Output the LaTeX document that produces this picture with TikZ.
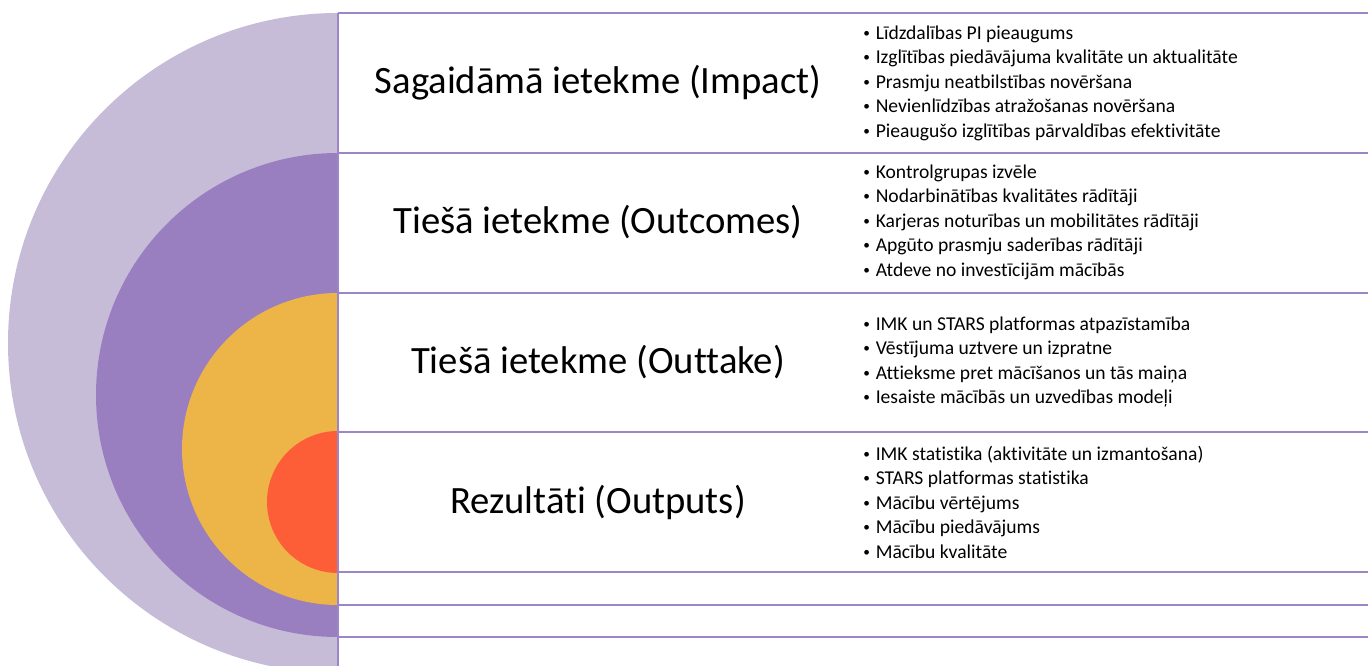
\documentclass[tikz,border=0pt]{standalone}
\usepackage{fontspec}
\setmainfont{Carlito}[Ligatures=NoCommon]

\definecolor{ringpale}{HTML}{C6BCD8}
\definecolor{ringviolet}{HTML}{9A7FC0}
\definecolor{ringgold}{HTML}{EDB548}
\definecolor{ringred}{HTML}{FD5E38}
\definecolor{rulecol}{HTML}{9C86C8}

\tikzset{
  rule/.style={draw=rulecol, line width=1.6pt},
  heading/.style={inner sep=0pt, font=\fontsize{29}{34}\selectfont},
  items/.style={anchor=west, inner sep=0pt, align=left, font=\fontsize{14.7}{18.4}\selectfont}
}
\newcommand{\itm}{\raisebox{0.2ex}{\fontsize{10}{10}\selectfont\textbullet}\hspace{0.3em}}

\begin{document}
\begin{tikzpicture}[x=0.75pt, y=-0.75pt]
\useasboundingbox (0,0) rectangle (1368,666);

\begin{scope}
  \clip (0,0) rectangle (338,666);
  \foreach \cy/\r/\c in {343/330/ringpale, 395/242/ringviolet, 449/156/ringgold, 502/71/ringred}
    \fill[\c] (338,\cy) circle (\r);
\end{scope}

\draw[rule] (338,13) -- (338,666);
\foreach \y in {13,153,293,432,572,605,637}
  \draw[rule] (338,\y) -- (1368,\y);

\node[heading] (h1) at (598,83) {Sagaidāmā ietekme (Impact)};
\node[heading] (h2) at (598,222) {Tiešā ietekme (Outcomes)};
\node[heading] (h3) at (598,362) {Tiešā ietekme (Outtake)};
\node[heading] (h4) at (598,502) {Rezultāti (Outputs)};

\node[items] (b1) at (863,83) {\itm Līdzdalības PI pieaugums\\
  \itm Izglītības piedāvājuma kvalitāte un aktualitāte\\
  \itm Prasmju neatbilstības novēršana\\
  \itm Nevienlīdzības atražošanas novēršana\\
  \itm Pieaugušo izglītības pārvaldības efektivitāte};
\node[items] (b2) at (863,222) {\itm Kontrolgrupas izvēle\\
  \itm Nodarbinātības kvalitātes rādītāji\\
  \itm Karjeras noturības un mobilitātes rādītāji\\
  \itm Apgūto prasmju saderības rādītāji\\
  \itm Atdeve no investīcijām mācībās};
\node[items] (b3) at (863,362) {\itm IMK un STARS platformas atpazīstamība\\
  \itm Vēstījuma uztvere un izpratne\\
  \itm Attieksme pret mācīšanos un tās maiņa\\
  \itm Iesaiste mācībās un uzvedības modeļi};
\node[items] (b4) at (863,502) {\itm IMK statistika (aktivitāte un izmantošana)\\
  \itm STARS platformas statistika\\
  \itm Mācību vērtējums\\
  \itm Mācību piedāvājums\\
  \itm Mācību kvalitāte};

\end{tikzpicture}
\end{document}
